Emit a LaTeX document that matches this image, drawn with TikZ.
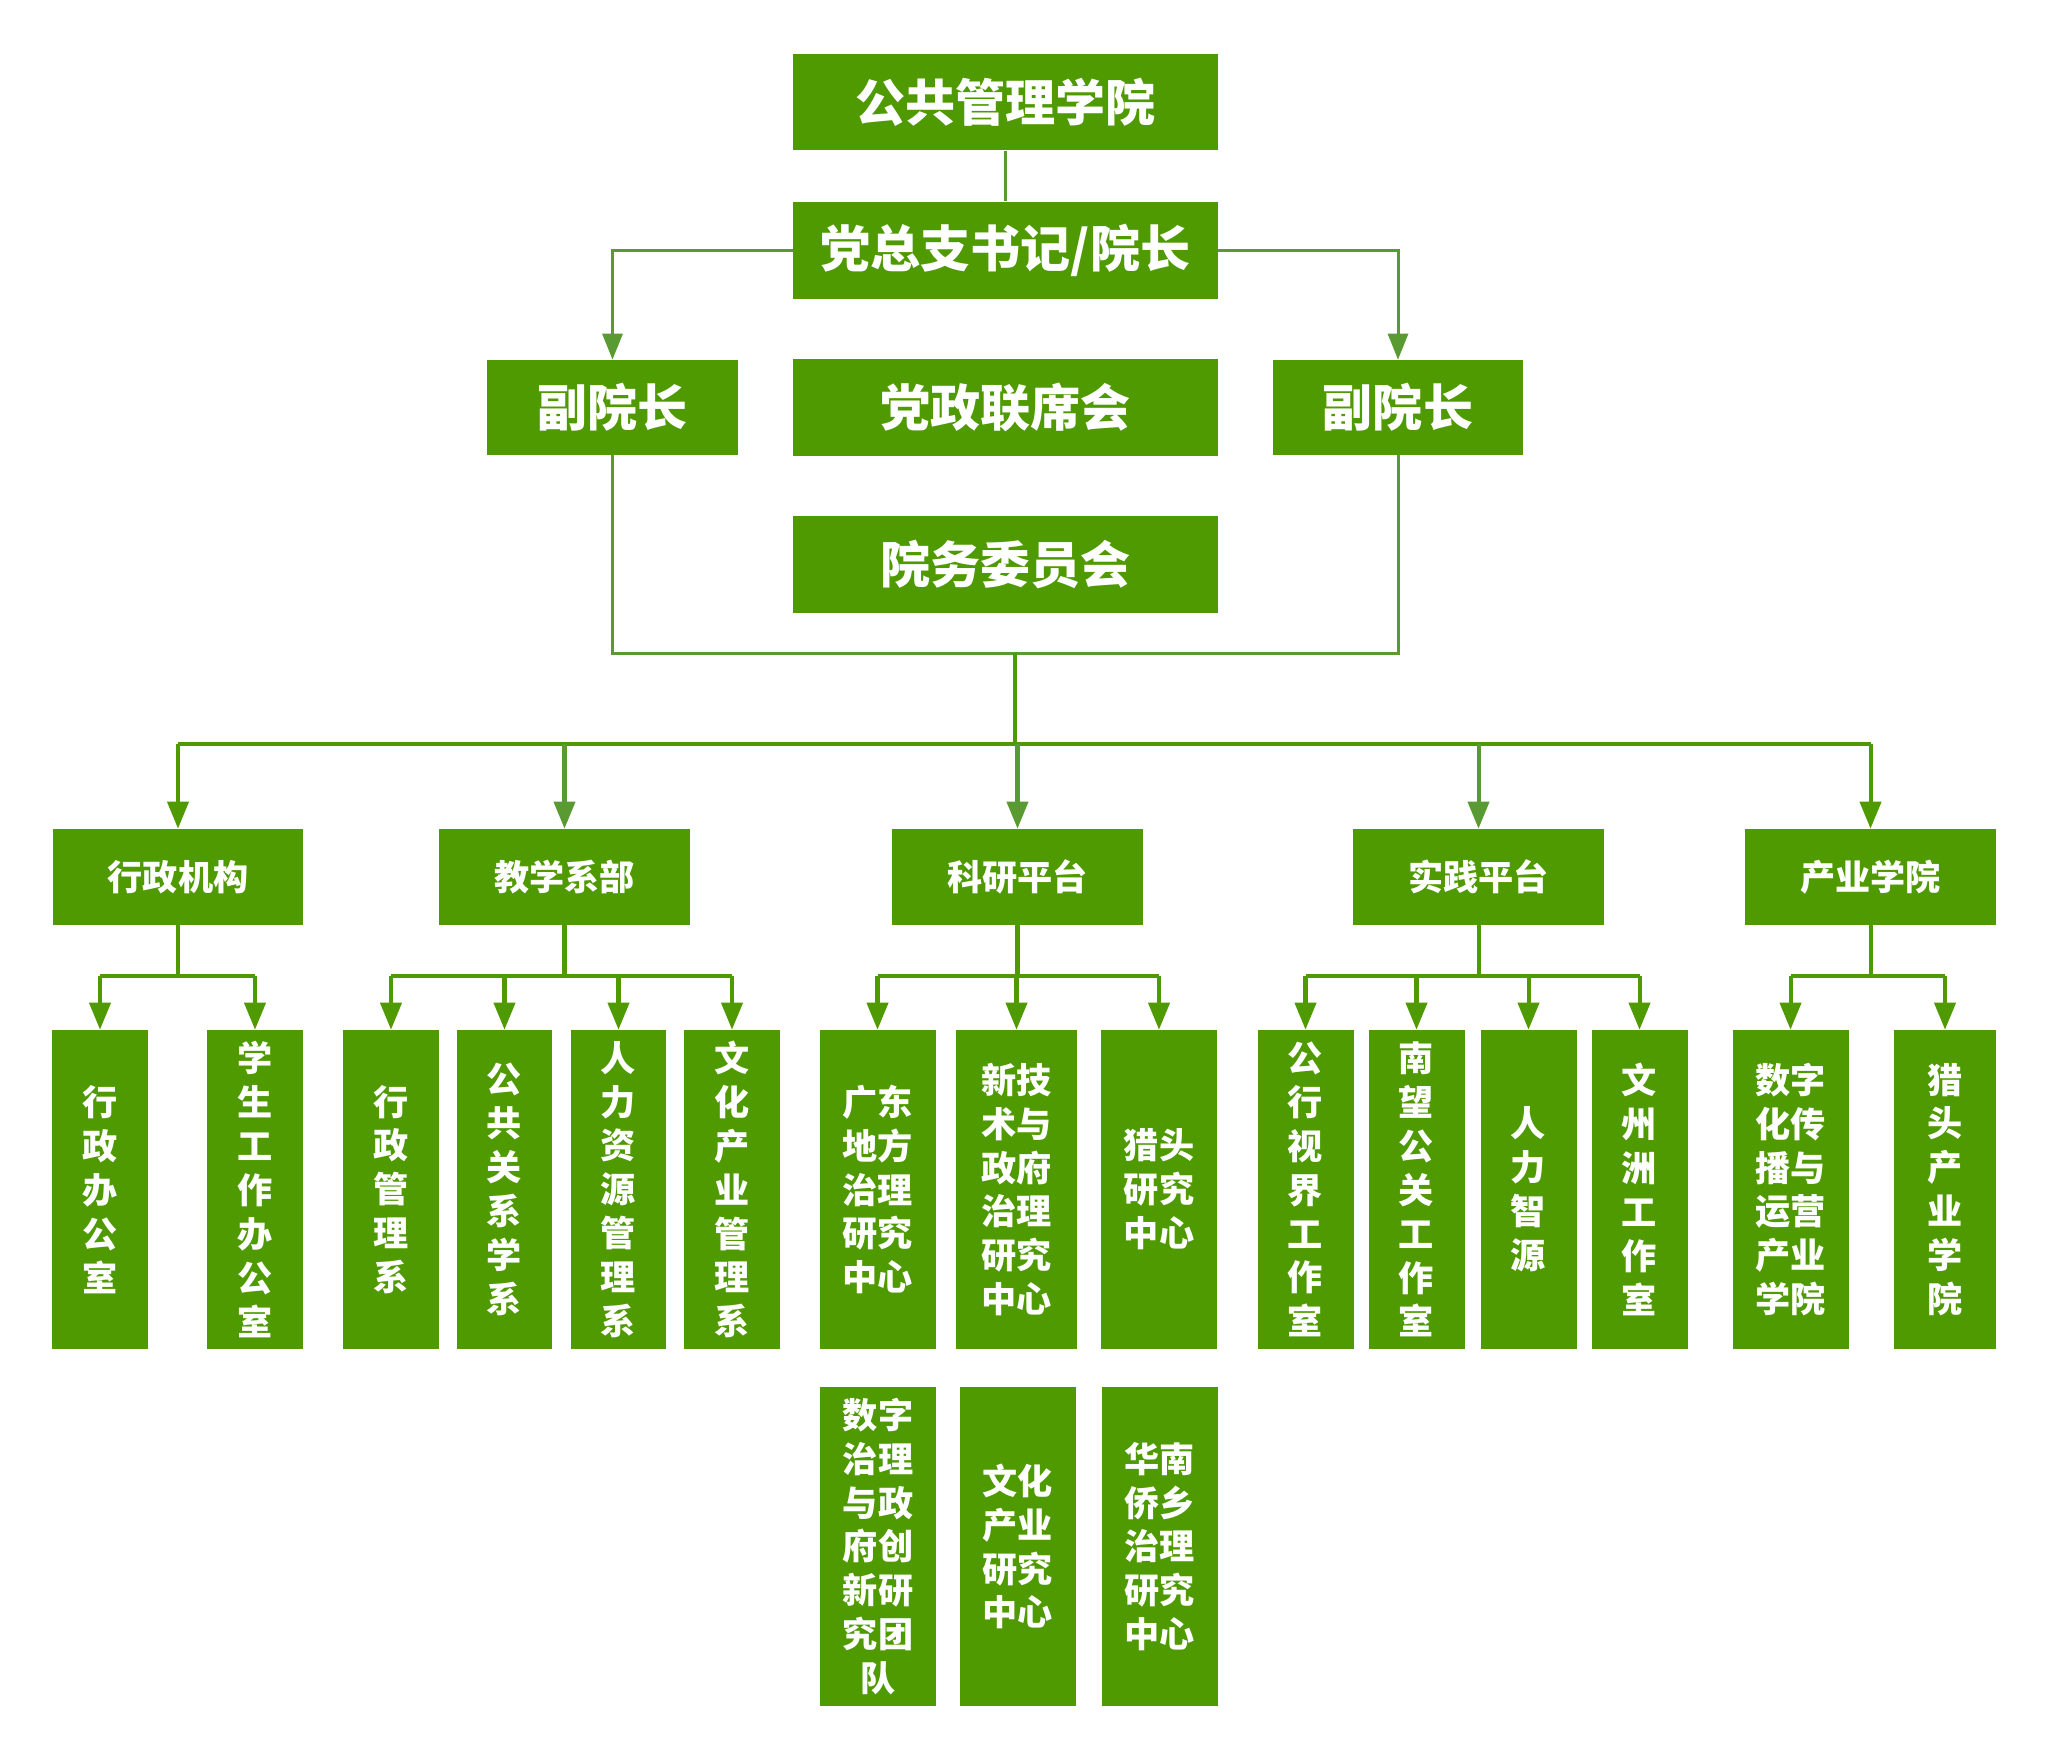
\documentclass[tikz,border=0pt]{standalone}
\usepackage{fontspec}
\usepackage{tikz}
\usetikzlibrary{arrows.meta}
\newfontfamily\cjk{Noto Sans CJK SC}
\definecolor{boxgreen}{HTML}{4E9A00}
\definecolor{linkgreen}{HTML}{5A9A32}
\tikzstyle{head} = [rectangle, fill=boxgreen, text=white, inner sep=0pt, font=\cjk\bfseries\fontsize{28.5}{34}\selectfont, minimum width=8.5cm, minimum height=1.94cm]
\tikzstyle{vice} = [head, minimum width=5.02cm, minimum height=1.9cm]
\tikzstyle{unit} = [rectangle, fill=boxgreen, text=white, inner sep=0pt, font=\cjk\bfseries\fontsize{20}{25}\selectfont, minimum width=5.02cm, minimum height=1.92cm]
\tikzstyle{column} = [unit, align=center, minimum width=1.92cm, minimum height=6.38cm]
\tikzstyle{widecolumn} = [column, minimum width=2.32cm]
\tikzstyle{link} = [draw=linkgreen, line width=1.7pt]
\tikzstyle{linkarrow} = [link, -{Triangle[length=0.52cm,width=0.4cm]}]
\tikzstyle{bus} = [draw=boxgreen, line width=2.3pt]
\tikzstyle{busarrow} = [bus, -{Triangle[length=0.54cm,width=0.42cm]}]
\tikzstyle{softarrow} = [busarrow, draw=linkgreen, fill=linkgreen]

\begin{document}
\begin{tikzpicture}[x=0.02cm, y=-0.02cm]
  \useasboundingbox (0,0) rectangle (2048,1759);
  \node (college) [head] at (1005.5,102) {公共管理学院};
  \node (secretary) [head] at (1005.5,250) {党总支书记/院长};
  \node (jointmeet) [head] at (1005.5,407.5) {党政联席会};
  \node (affairs) [head] at (1005.5,564.5) {院务委员会};
  \node (viceL) [vice] at (612.5,407.5) {副院长};
  \node (viceR) [vice] at (1398,407.5) {副院长};

  \node (admin) [unit] at (178,877) {行政机构};
  \node (teach) [unit] at (564.5,877) {教学系部};
  \node (research) [unit] at (1017.5,877) {科研平台};
  \node (practice) [unit] at (1478.5,877) {实践平台};
  \node (industry) [unit] at (1870.5,877) {产业学院};

  \node (office) [column] at (100,1189.5) {行\\政\\办\\公\\室};
  \node (student) [column] at (255,1189.5) {学\\生\\工\\作\\办\\公\\室};
  \node (deptA) [column] at (391,1189.5) {行\\政\\管\\理\\系};
  \node (deptB) [column] at (504.5,1189.5) {公\\共\\关\\系\\学\\系};
  \node (deptC) [column] at (618.5,1189.5) {人\\力\\资\\源\\管\\理\\系};
  \node (deptD) [column] at (732,1189.5) {文\\化\\产\\业\\管\\理\\系};
  \node (centerA) [widecolumn] at (877.5,1189.5) {广东\\地方\\治理\\研究\\中心};
  \node (centerB) [widecolumn, minimum width=2.42cm] at (1016.5,1189.5) {新技\\术与\\政府\\治理\\研究\\中心};
  \node (centerC) [widecolumn] at (1159,1189.5) {猎头\\研究\\中心};
  \node (studioA) [column] at (1305.5,1189.5) {公\\行\\视\\界\\工\\作\\室};
  \node (studioB) [column] at (1416.5,1189.5) {南\\望\\公\\关\\工\\作\\室};
  \node (studioC) [column] at (1528.5,1189.5) {人\\力\\智\\源};
  \node (studioD) [column] at (1639.5,1189.5) {文\\州\\洲\\工\\作\\室};
  \node (schoolA) [widecolumn] at (1790.5,1189.5) {数字\\化传\\播与\\运营\\产业\\学院};
  \node (schoolB) [column, minimum width=2.04cm] at (1945,1189.5) {猎\\头\\产\\业\\学\\院};

  \node (centerD) [widecolumn, minimum height=6.4cm] at (878,1546.5) {数字\\治理\\与政\\府创\\新研\\究团\\队};
  \node (centerE) [widecolumn, minimum height=6.4cm] at (1017.5,1546.5) {文化\\产业\\研究\\中心};
  \node (centerF) [widecolumn, minimum height=6.4cm] at (1159.5,1546.5) {华南\\侨乡\\治理\\研究\\中心};

  \coordinate (fork) at (1015,653);
  \coordinate (trunk) at (1015,744);
  \coordinate (split) at (0,976);

  \draw[link] (college) -- (secretary);
  \draw[linkarrow] (secretary.west) -| (viceL.north);
  \draw[linkarrow] (secretary.east) -| (viceR.north);
  \draw[link] (viceL.south) |- (fork) -| (viceR.south);
  \draw[bus] (fork) -- (trunk);
  \draw[bus] (admin.north |- trunk) -- (industry.north |- trunk);
  \foreach \n in {admin, industry}
    \draw[busarrow] (\n.north |- trunk) -- (\n.north);
  \foreach \n in {teach, research, practice}
    \draw[softarrow] (\n.north |- trunk) -- (\n.north);

  \draw[bus] (admin.south) -- (admin.south |- split);
  \draw[bus] (office.north |- split) -- (student.north |- split);
  \foreach \n in {office, student}
    \draw[busarrow] (\n.north |- split) -- (\n.north);

  \draw[bus] (teach.south) -- (teach.south |- split);
  \draw[bus] (deptA.north |- split) -- (deptD.north |- split);
  \foreach \n in {deptA, deptB, deptC, deptD}
    \draw[busarrow] (\n.north |- split) -- (\n.north);

  \draw[bus] (research.south) -- (research.south |- split);
  \draw[bus] (centerA.north |- split) -- (centerC.north |- split);
  \foreach \n in {centerA, centerB, centerC}
    \draw[busarrow] (\n.north |- split) -- (\n.north);

  \draw[bus] (practice.south) -- (practice.south |- split);
  \draw[bus] (studioA.north |- split) -- (studioD.north |- split);
  \foreach \n in {studioA, studioB, studioC, studioD}
    \draw[busarrow] (\n.north |- split) -- (\n.north);

  \draw[bus] (industry.south) -- (industry.south |- split);
  \draw[bus] (schoolA.north |- split) -- (schoolB.north |- split);
  \foreach \n in {schoolA, schoolB}
    \draw[busarrow] (\n.north |- split) -- (\n.north);
\end{tikzpicture}
\end{document}
